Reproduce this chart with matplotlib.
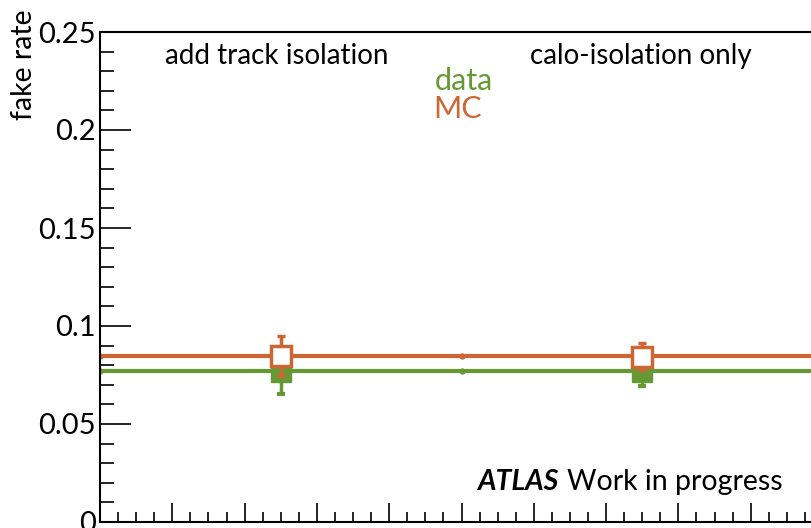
import matplotlib
matplotlib.use("Agg")
import matplotlib.pyplot as plt
from matplotlib.ticker import MultipleLocator

# bins: 0-1 "add track isolation", 1-2 "calo-isolation only"
bin_centers = [0.5, 1.5]
bin_labels = ["add track isolation", "calo-isolation only"]

data_rate = [0.0765, 0.0765]
data_err = [0.0112, 0.0072]
mc_rate = [0.0847, 0.0844]
mc_err = [0.0102, 0.0070]

# fitted constant levels
fit_x = [0.0, 1.0, 2.0]
data_fit = [0.0770, 0.0770, 0.0770]
mc_fit = [0.0847, 0.0847, 0.0847]

green = "#669933"
orange = "#cc6633"

plt.rcParams["font.family"] = ["Lato", "DejaVu Sans"]

fig = plt.figure(figsize=(8.11, 5.28), dpi=100)
ax = fig.add_axes([100 / 811, 6 / 528, 723 / 811, 490 / 528])

ax.plot(fit_x, data_fit, color=green, lw=3, marker="o", ms=3.5, zorder=2)
ax.plot(fit_x, mc_fit, color=orange, lw=3, marker="o", ms=3.5, zorder=2)

ax.errorbar(bin_centers, data_rate, yerr=data_err, fmt="s", color=green,
            ms=15, elinewidth=2.5, capsize=3, capthick=3, zorder=3)
ax.errorbar(bin_centers, mc_rate, yerr=mc_err, fmt="s", color=orange,
            mfc="white", mec=orange, mew=2.5, ms=15, elinewidth=2.5,
            capsize=3, capthick=3, zorder=4)

ax.set_xlim(0, 2)
ax.set_ylim(0, 0.25)
ax.xaxis.set_major_locator(MultipleLocator(0.2))
ax.xaxis.set_minor_locator(MultipleLocator(0.05))
ax.yaxis.set_minor_locator(MultipleLocator(0.01))
ax.set_yticks([0, 0.05, 0.1, 0.15, 0.2, 0.25])
ax.set_yticklabels(["0", "0.05", "0.1", "0.15", "0.2", "0.25"])
ax.set_xticklabels([])
ax.tick_params(axis="both", which="both", direction="in", width=1.2)
ax.tick_params(axis="y", which="major", length=22, labelsize=21, pad=3)
ax.tick_params(axis="y", which="minor", length=10)
ax.tick_params(axis="x", which="major", length=14)
ax.tick_params(axis="x", which="minor", length=7)
ax.spines["right"].set_visible(False)
for s in ["left", "top", "bottom"]:
    ax.spines[s].set_linewidth(1.5)

fig.text(24 / 811, 1 - 9 / 528, "fake rate", rotation=90, ha="center",
         va="top", fontsize=20.5)

ax.text(0.49, 0.2337, bin_labels[0], ha="center", va="baseline", fontsize=20)
ax.text(1.497, 0.2337, bin_labels[1], ha="center", va="baseline", fontsize=20)

ax.text(0.927, 0.2204, "data", color=green, ha="left", va="baseline",
        fontsize=22)
ax.text(0.922, 0.2061, "MC", color=orange, ha="left", va="baseline",
        fontsize=22)

ax.text(1.267, 0.0163, "ATLAS", fontsize=20.5, fontweight="bold",
        fontstyle="italic", ha="right", va="baseline")
ax.text(1.889, 0.0163, "Work in progress", fontsize=20.5, ha="right",
        va="baseline")

fig.savefig("out.png", dpi=100)
